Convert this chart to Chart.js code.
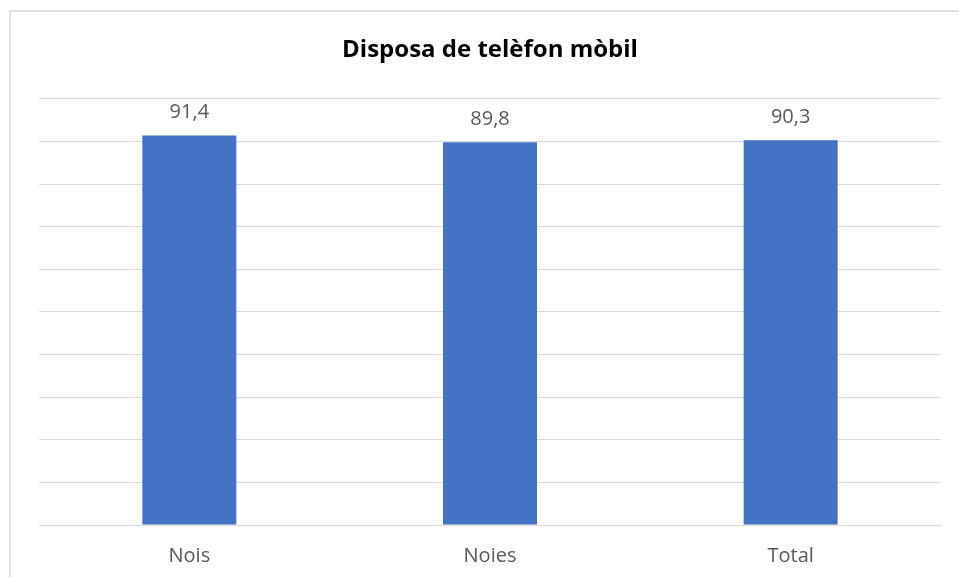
<!DOCTYPE html>
<html>
<head>
<meta charset="utf-8">
<script src="https://cdn.jsdelivr.net/npm/chart.js@4.4.1/dist/chart.umd.min.js"></script>
<style>
    html, body { margin: 0; padding: 0; background: #fff; overflow: hidden; }
    #wrap { position: relative; width: 959px; height: 577px; }
    #frame {
        position: absolute; left: 9px; top: 10px; width: 980px; height: 600px;
        border: 2px solid #e0e0e0; box-sizing: border-box;
    }
    canvas { position: absolute; left: 0; top: 0; }
</style>
</head>
<body>
<div id="wrap">
    <div id="frame"></div>
    <canvas id="chart" width="959" height="577"></canvas>
</div>
<script>
const categories = ['Nois', 'Noies', 'Total'];
const values = [91.4, 89.8, 90.3];
const chartTitle = 'Disposa de telèfon mòbil';

const FONT = "'Open Sans', 'Noto Sans', sans-serif";
const TEXT = '#595959';
const GRID = '#d9d9d9';

// draws the value above each bar, Excel style (comma decimals)
const valueLabels = {
    id: 'valueLabels',
    afterDatasetsDraw(chart) {
        const ctx = chart.ctx;
        const meta = chart.getDatasetMeta(0);
        ctx.save();
        ctx.font = '20px ' + FONT;
        ctx.fillStyle = TEXT;
        ctx.textAlign = 'center';
        ctx.textBaseline = 'middle';
        meta.data.forEach((bar, i) => {
            const txt = values[i].toFixed(1).replace('.', ',');
            ctx.fillText(txt, bar.x, bar.y - 23);
        });
        ctx.restore();
    }
};

new Chart(document.getElementById('chart'), {
    type: 'bar',
    data: {
        labels: categories,
        datasets: [{
            data: values,
            backgroundColor: '#4472C4',
            borderWidth: 0,
            categoryPercentage: 1,
            barPercentage: 0.3126
        }]
    },
    options: {
        responsive: false,
        animation: false,
        layout: { padding: { left: 39, right: 18, top: 0, bottom: 0 } },
        plugins: {
            legend: { display: false },
            tooltip: { enabled: false },
            title: {
                display: true,
                text: chartTitle,
                color: '#000',
                font: { family: FONT, size: 24, weight: 'bold', lineHeight: 1.2 },
                padding: { top: 36, bottom: 34 }
            }
        },
        scales: {
            x: {
                grid: { display: false, drawTicks: false },
                border: { display: true, color: GRID, width: 1 },
                ticks: { color: TEXT, font: { family: FONT, size: 20 }, padding: 19 },
                afterFit: s => { s.height = 52; }
            },
            y: {
                min: 0,
                max: 100,
                ticks: { display: false, stepSize: 10 },
                grid: { color: GRID, lineWidth: 1, drawTicks: false },
                border: { display: false },
                afterFit: s => { s.width = 0; }
            }
        }
    },
    plugins: [valueLabels]
});
</script>
</body>
</html>
